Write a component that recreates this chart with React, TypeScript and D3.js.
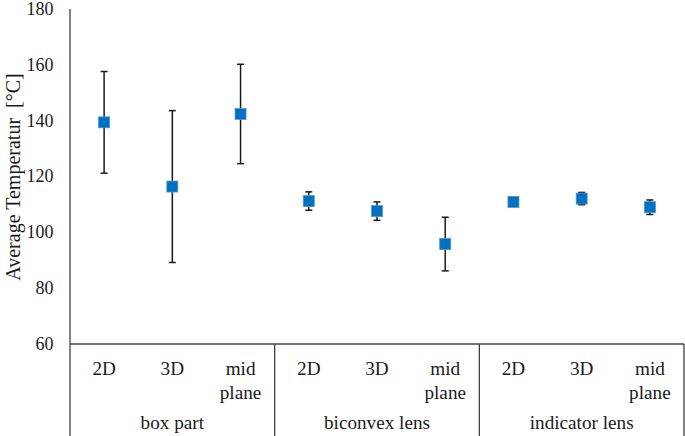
import React from "react";
import * as d3 from "d3";

const groups = ["box part", "biconvex lens", "indicator lens"];
const subLabels = ["2D", "3D", "mid plane"];
const means = [139.4, 116.4, 142.4, 111.2, 107.6, 95.8, 110.9, 112.1, 109.0];
const errors = [18.2, 27.2, 17.8, 3.3, 3.3, 9.6, 1.0, 2.2, 2.6];
const yTicks = [60, 80, 100, 120, 140, 160, 180];

const W = 685, H = 436;
const m = { l: 70, r: 684, t: 9, b: 344 };
const font = "'Liberation Serif', 'Times New Roman', serif";
const fs = 19.2;

export default function App() {
  const cats = d3.range(groups.length * subLabels.length).map(String);
  const x = d3.scaleBand().domain(cats).range([m.l, m.r]);
  const y = d3.scaleLinear().domain([60, 180]).range([m.b, m.t]);
  const gw = x.bandwidth() * subLabels.length;
  const cap = 3.5, sq = 11;

  return (
    <svg width={W} height={H} style={{ position: "absolute", left: 0, top: 0, background: "#fff", fontFamily: font }}>
      {/* y axis */}
      <line x1={m.l} x2={m.l} y1={m.t} y2={m.b} stroke="#404040" strokeWidth={1.3} />
      {yTicks.map((t) => (
        <text key={t} x={53.5} y={y(t)} dy="0.33em" textAnchor="end" fontSize={18} fill="#1a1a1a">{t}</text>
      ))}
      <text transform={`translate(19.5,177) rotate(-90)`} textAnchor="middle" fontSize={20} fill="#1a1a1a" style={{ whiteSpace: "pre" }}>
        Average Temperatur  [°C]
      </text>

      {/* category axis */}
      <line x1={m.l} x2={m.r} y1={m.b} y2={m.b} stroke="#404040" strokeWidth={1.3} />
      {d3.range(groups.length + 1).map((i) => (
        <line key={i} x1={m.l + i * gw} x2={m.l + i * gw} y1={m.b} y2={H} stroke="#404040" strokeWidth={1.3} />
      ))}
      {cats.map((c, i) => {
        const cx = (x(c) as number) + x.bandwidth() / 2;
        const lines = subLabels[i % subLabels.length].split(" ");
        return (
          <text key={c} x={cx} y={374.5} textAnchor="middle" fontSize={fs} fill="#1a1a1a">
            {lines.map((l, j) => (
              <tspan key={j} x={cx} dy={j === 0 ? 0 : 24}>{l}</tspan>
            ))}
          </text>
        );
      })}
      {groups.map((g, i) => (
        <text key={g} x={m.l + gw * (i + 0.5)} y={428.5} textAnchor="middle" fontSize={fs} fill="#1a1a1a">{g}</text>
      ))}

      {/* error bars */}
      {cats.map((c, i) => {
        const cx = (x(c) as number) + x.bandwidth() / 2;
        const y1 = y(means[i] + errors[i]), y2 = y(means[i] - errors[i]);
        return (
          <g key={c} stroke="#1a1a1a" strokeWidth={1.5}>
            <line x1={cx} x2={cx} y1={y1} y2={y2} />
            <line x1={cx - cap} x2={cx + cap} y1={y1} y2={y1} />
            <line x1={cx - cap} x2={cx + cap} y1={y2} y2={y2} />
          </g>
        );
      })}

      {/* markers */}
      {cats.map((c, i) => {
        const cx = (x(c) as number) + x.bandwidth() / 2;
        return (
          <rect key={c} x={cx - sq / 2} y={y(means[i]) - sq / 2} width={sq} height={sq} fill="#0070C0" stroke="#4f94d4" strokeWidth={0.8} />
        );
      })}
    </svg>
  );
}
